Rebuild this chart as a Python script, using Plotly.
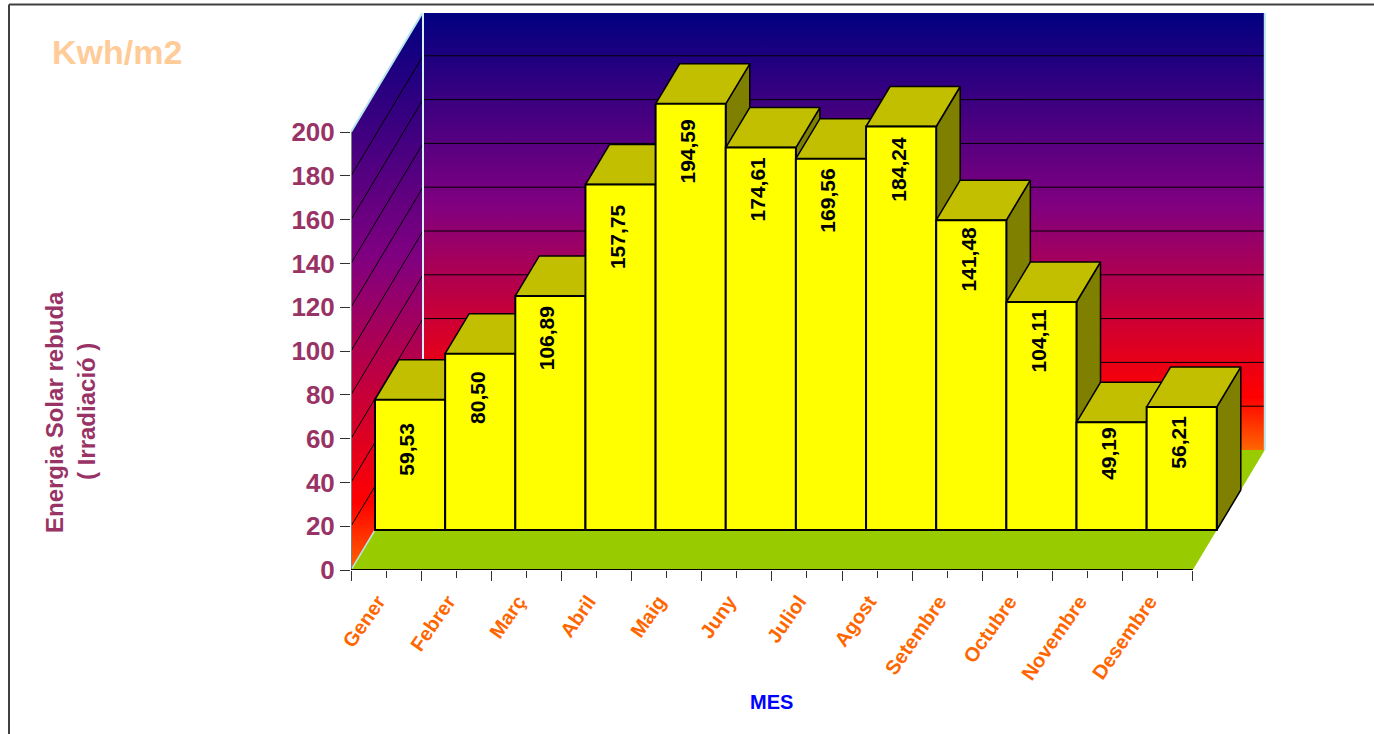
import plotly.graph_objects as go

months = ["Gener", "Febrer", "Març", "Abril", "Maig", "Juny", "Juliol", "Agost",
          "Setembre", "Octubre", "Novembre", "Desembre"]
values = [59.53, 80.50, 106.89, 157.75, 194.59, 174.61, 169.56, 184.24, 141.48, 104.11, 49.19, 56.21]
label_drop_px = [50, 44, 42, 52, 48, 41, 42, 43, 39, 39, 31, 35]
y_ticks = list(range(0, 201, 20))

W, H = 1374, 734
PL, PR, PT, PB = 351, 1266, 13, 570
PX_MONTH = 70.15
PX_UNIT = 2.19
DX = 24 / PX_MONTH      # one bar depth, in month units
DY = 40 / PX_UNIT       # one bar depth, in value units
XMAX = (PR - PL) / PX_MONTH
YMAX = (PB - PT) / PX_UNIT
WX, WY = 3 * DX, 3 * DY  # depth of the floor
LABEL_NUDGE = 8 / PX_MONTH

PURPLE = "#993366"
ORANGE = "#ff6600"
EDGE = "#b4e6ec"
SCALE = [[0, "#000080"], [0.44, "#800080"], [0.88, "#ff0000"], [1, "#ff6600"]]

fig = go.Figure()


def poly(xs, ys, fill=None, line=None, lw=1.5, grad=None):
    kw = dict(x=xs + xs[:1], y=ys + ys[:1], mode="lines", fill="toself",
              showlegend=False, hoverinfo="skip", cliponaxis=False)
    if grad:
        kw["fillgradient"] = grad
        kw["fillcolor"] = "rgba(0,0,0,0)"
    else:
        kw["fillcolor"] = fill
    kw["line"] = dict(color=line, width=lw) if line else dict(width=0)
    fig.add_trace(go.Scatter(**kw))


def seg(xs, ys, color, lw):
    fig.add_trace(go.Scatter(x=xs, y=ys, mode="lines", showlegend=False, hoverinfo="skip",
                             cliponaxis=False, line=dict(color=color, width=lw)))


n = len(months)
top = y_ticks[-1]
# left wall
poly([0, WX, WX, 0], [0, WY, top + WY, top],
     grad=dict(type="vertical", colorscale=SCALE, start=top + WY, stop=0))
# back wall
poly([WX, n + WX, n + WX, WX], [WY, WY, top + WY, top + WY],
     grad=dict(type="vertical", colorscale=SCALE, start=top + WY, stop=WY))
# grid lines
gx, gy = [], []
for v in y_ticks[1:-1]:
    gx += [0, WX, n + WX, None]
    gy += [v, v + WY, v + WY, None]
seg(gx, gy, "#000000", 1)
# wall edges
seg([0, WX, n + WX, n + WX], [top, top + WY, top + WY, WY], EDGE, 2)
seg([WX, WX], [WY, top + WY], "#d4f2f4", 2)
# floor
poly([0, n, n + WX, WX], [0, 0, WY, WY], fill="#99cc00")
seg([0, DX], [0, DY], EDGE, 1.5)
# axis lines
seg([0, 0], [0, top], "#808080", 2)
seg([0, n], [0, 0], "#000000", 2)

# bar side and top faces, painted left to right
for i, v in enumerate(values):
    L = i + DX
    R = i + 1 + DX
    poly([R, R + DX, R + DX, R], [DY, 2 * DY, v + 2 * DY, v + DY], fill="#808000", line="#000000", lw=1.5)
    poly([L, L + DX, R + DX, R], [v + DY, v + 2 * DY, v + 2 * DY, v + DY], fill="#c2be00", line="#000000", lw=1.5)

# bar front faces, on an overlaid axis pair so they sit above all the rest
fig.add_trace(go.Bar(x=[i + 0.5 + DX for i in range(n)], y=values, base=[DY] * n, width=1,
                     marker=dict(color="#ffff00", line=dict(color="#000000", width=2)),
                     xaxis="x2", yaxis="y2", showlegend=False, hoverinfo="skip"))

font = "Liberation Sans, Arial, sans-serif"
annots = []
for i, v in enumerate(values):
    annots.append(dict(x=i + 0.5 + DX, y=v + DY, xref="x2", yref="y2", yshift=-label_drop_px[i], xshift=-3,
                       text=f"<b>{v:.2f}</b>".replace(".", ","), textangle=-90, showarrow=False,
                       xanchor="center", yanchor="middle",
                       font=dict(family=font, size=21, color="#000000")))


def px_x(x):
    return (x - PL) / (PR - PL)


def px_y(y):
    return (PB - y) / (PB - PT)


def px_note(x, y, text, size, color, angle=0):
    annots.append(dict(x=px_x(x), y=px_y(y), xref="paper", yref="paper",
                       text=f"<b>{text}</b>", showarrow=False, textangle=angle,
                       xanchor="center", yanchor="middle",
                       font=dict(family=font, size=size, color=color)))


px_note(117, 52, "Kwh/m2", 34, "#ffcc99")
px_note(54, 412, "Energia Solar rebuda", 24, PURPLE, -90)
px_note(86, 412, "( Irradiació )", 24, PURPLE, -90)
px_note(771, 702, "MES", 20, "#0000ff")

frame = [
    dict(type="line", xref="paper", yref="paper", x0=px_x(9), x1=px_x(9), y0=px_y(4.5), y1=px_y(H),
         line=dict(color="#404040", width=2)),
    dict(type="line", xref="paper", yref="paper", x0=px_x(9), x1=px_x(W), y0=px_y(4.5), y1=px_y(4.5),
         line=dict(color="#404040", width=2)),
]

fig.update_layout(
    width=W, height=H, autosize=False,
    margin=dict(l=PL, r=W - PR, t=PT, b=H - PB, pad=0),
    paper_bgcolor="#ffffff", plot_bgcolor="#ffffff",
    showlegend=False, annotations=annots, shapes=frame,
    xaxis=dict(range=[0, XMAX], tickmode="array",
               tickvals=[i + 0.5 - LABEL_NUDGE for i in range(n)], ticktext=months,
               tickangle=-55, ticks="outside", ticklen=11, tickcolor="rgba(0,0,0,0)", tickwidth=1,
               tickfont=dict(family=font, size=20, color=ORANGE, weight="bold"),
               showgrid=False, zeroline=False, showline=False,
               minor=dict(tickmode="array", tickvals=list(range(n + 1)), ticks="outside", ticklen=10,
                          tickcolor="#303030", tickwidth=1, showgrid=False)),
    yaxis=dict(range=[0, YMAX], tickmode="array", tickvals=y_ticks, ticks="outside", ticklen=10,
               tickcolor="#303030", tickwidth=1,
               tickfont=dict(family=font, size=26, color=PURPLE, weight="bold"),
               showgrid=False, zeroline=False, showline=False),
    # overlaid axes: carry the bar fronts and the mid-month ticks
    xaxis2=dict(range=[0, XMAX], overlaying="x", side="bottom", anchor="y2", tickmode="array",
                tickvals=[i + 0.5 for i in range(n)], showticklabels=False,
                ticks="outside", ticklen=7, tickcolor="#303030", tickwidth=1,
                showgrid=False, zeroline=False, showline=False),
    yaxis2=dict(range=[0, YMAX], overlaying="y", visible=False),
)

fig.write_html("out.html", config={"displayModeBar": False},
               post_script="document.body.style.margin='0';document.body.style.overflow='hidden';")
